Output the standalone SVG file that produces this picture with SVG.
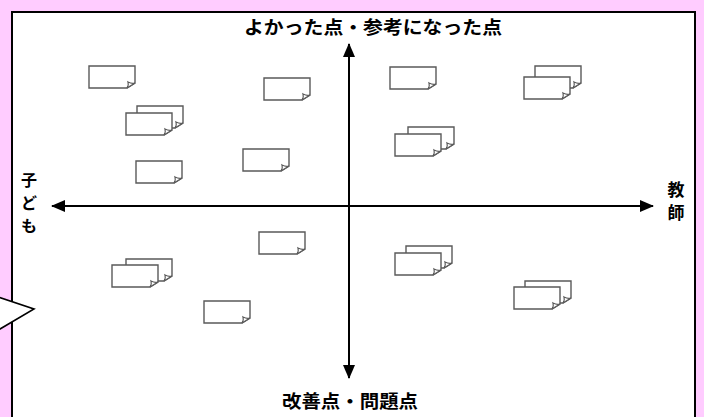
<svg xmlns="http://www.w3.org/2000/svg" xmlns:xlink="http://www.w3.org/1999/xlink" width="704" height="417" viewBox="0 0 704 417">
<style>
.lbl{font-family:"Noto Sans CJK JP","Noto Sans CJK SC",sans-serif;font-weight:bold;fill:#000;}
.nb{fill:#fff;stroke:#5a5a5a;stroke-width:1.4;}
.nf{fill:#fff;stroke:#5a5a5a;stroke-width:1.2;}
.ax{stroke:#000;stroke-width:2;fill:none;}
</style>
<defs>
<marker id="ah" viewBox="0 0 14 12" refX="13" refY="6" markerWidth="14" markerHeight="12" markerUnits="userSpaceOnUse" orient="auto">
<polygon points="0,0 14,6 0,12" fill="#000"/>
</marker>
<g id="note">
<path class="nb" d="M0,0 H46 V17 L38,22 H0 Z"/>
<path class="nf" d="M46,17 L38,22 Q40,19 39,16 Q43,18 46,17 Z"/>
</g>
<g id="dnote">
<use xlink:href="#note" x="11" y="-7"/>
<use xlink:href="#note"/>
</g>
</defs>
<rect x="0" y="0" width="704" height="417" fill="#FFCCFF"/>
<rect x="12" y="12" width="683" height="420" fill="#fff" stroke="#000" stroke-width="2"/>
<g id="callout">
<polygon points="-5,296 34,309 -5,332" fill="#fff" stroke="#000" stroke-width="1.6"/>
</g>
<g id="connectors">
<line class="ax" x1="349" y1="378" x2="349" y2="44" marker-end="url(#ah)"/>
<line class="ax" x1="349" y1="200" x2="349" y2="378" marker-end="url(#ah)"/>
<line class="ax" x1="349" y1="206" x2="653" y2="206" marker-end="url(#ah)"/>
<line class="ax" x1="349" y1="206" x2="52" y2="206" marker-end="url(#ah)"/>
</g>
<g id="label-top"><text class="lbl" x="373" y="34" font-size="18" text-anchor="middle" textLength="258" lengthAdjust="spacingAndGlyphs">よかった点・参考になった点</text></g>
<g id="label-bottom"><text class="lbl" x="350" y="408" font-size="18" text-anchor="middle" textLength="136" lengthAdjust="spacingAndGlyphs">改善点・問題点</text></g>
<g id="label-right"><text class="lbl" font-size="17" text-anchor="middle"><tspan x="676" y="196">教</tspan><tspan x="676" y="219">師</tspan></text></g>
<g id="label-left"><text class="lbl" font-size="16" text-anchor="middle"><tspan x="29" y="186">子</tspan><tspan x="29" y="209">ど</tspan><tspan x="29" y="232">も</tspan></text></g>
<g id="n1" transform="translate(89,66)"><use xlink:href="#note"/></g>
<g id="n2" transform="translate(264,78)"><use xlink:href="#note"/></g>
<g id="n3" transform="translate(390,67)"><use xlink:href="#note"/></g>
<g id="n4" transform="translate(136,161)"><use xlink:href="#note"/></g>
<g id="n5" transform="translate(243,149)"><use xlink:href="#note"/></g>
<g id="n6" transform="translate(259,232)"><use xlink:href="#note"/></g>
<g id="n7" transform="translate(204,301)"><use xlink:href="#note"/></g>
<g id="d1" transform="translate(126,113)"><use xlink:href="#dnote"/></g>
<g id="d2" transform="translate(524,77)"><use xlink:href="#note" x="11" y="-11"/><use xlink:href="#note"/></g>
<g id="d3" transform="translate(395,134)"><use xlink:href="#note" x="13" y="-7"/><use xlink:href="#note"/></g>
<g id="d4" transform="translate(112,265)"><use xlink:href="#note" x="14" y="-6"/><use xlink:href="#note"/></g>
<g id="d5" transform="translate(395,253)"><use xlink:href="#dnote"/></g>
<g id="d6" transform="translate(514,287)"><use xlink:href="#note" x="11" y="-6"/><use xlink:href="#note"/></g>
</svg>
